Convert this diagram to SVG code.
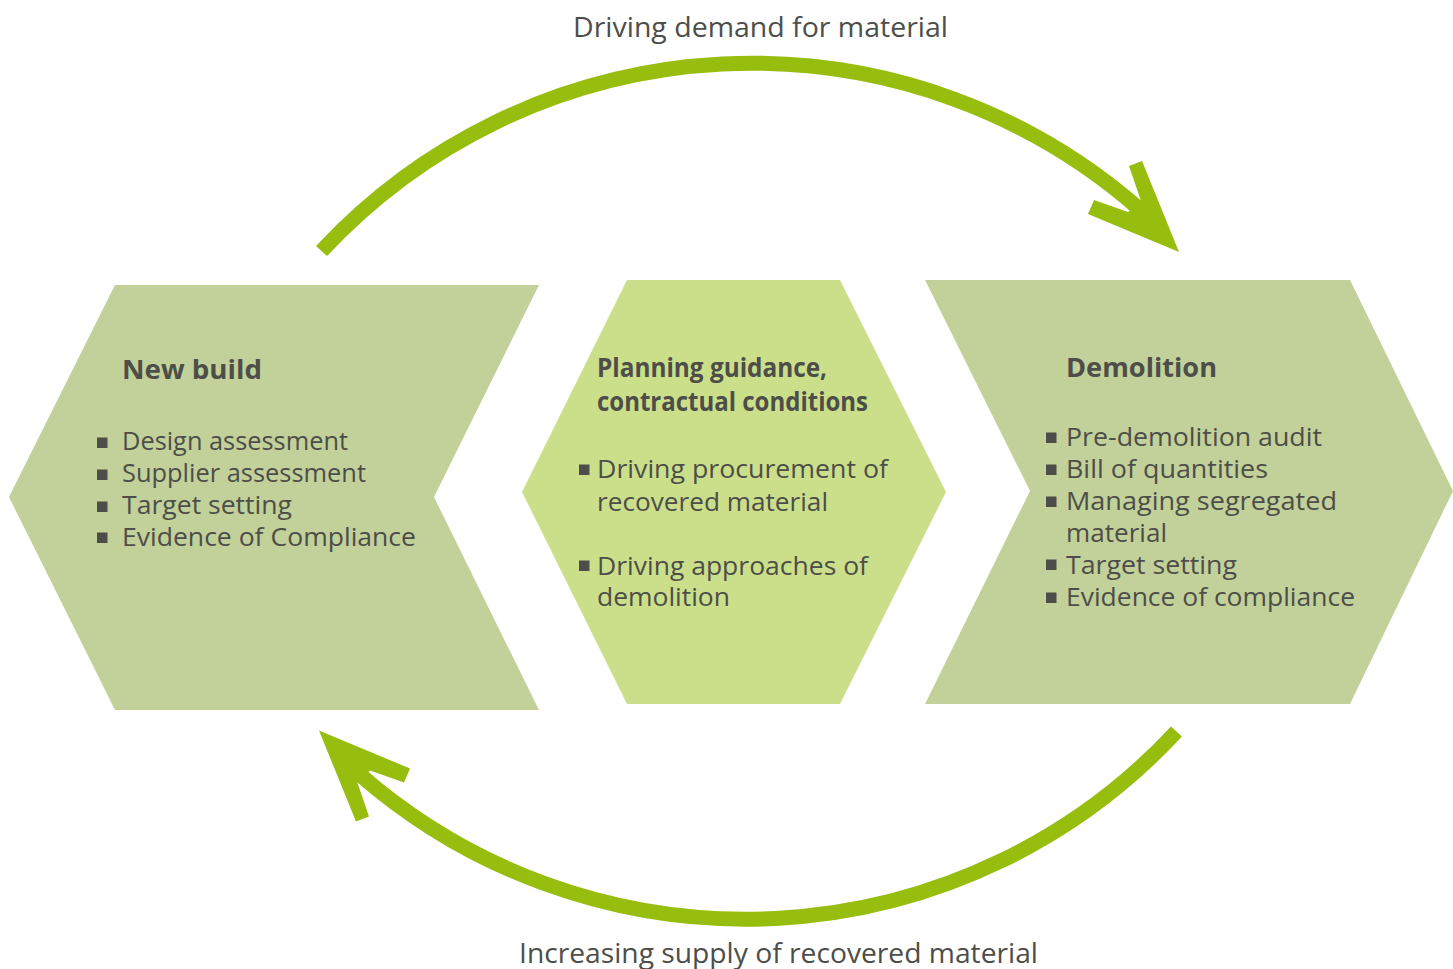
<svg xmlns="http://www.w3.org/2000/svg" width="1453" height="969" viewBox="0 0 1453 969">
  <defs>
    <style>
      .side { fill: #c2d199; }
      .hub { fill: #cbdf8a; }
      .t { font-family: "Open Sans", "Noto Sans", "DejaVu Sans", sans-serif; fill: #4d4e49; }
      .body { font-size: 25.5px; }
      .head { font-size: 27px; font-weight: 700; }
      .lbl { font-size: 27.5px; }
      .dot { fill: #4d4e49; }
      .shaft { fill: none; stroke: #97bd0e; stroke-width: 15; stroke-linecap: butt; }
      .tip { fill: #97bd0e; }
    </style>
    <!-- one curved arrow: arc shaft plus open chevron head -->
    <g id="cycle-arrow">
      <path class="shaft" d="M 321.5 251 A 587.7 587.7 0 0 1 1140 209.5"/>
      <polygon class="tip" points="1179,252 1088,214 1094,200 1128,212 1141,201 1129,166 1142,161"/>
    </g>
  </defs>

  <rect width="1453" height="969" fill="#ffffff"/>

  <!-- connectors -->
  <g id="connectors">
    <use href="#cycle-arrow"/>
    <use href="#cycle-arrow" transform="rotate(180 749 491.25)"/>
  </g>

  <!-- loop labels -->
  <g id="labels">
    <text class="t lbl" x="573" y="37" textLength="375" lengthAdjust="spacingAndGlyphs">Driving demand for material</text>
    <text class="t lbl" x="519" y="963" textLength="519" lengthAdjust="spacingAndGlyphs">Increasing supply of recovered material</text>
  </g>

  <!-- new build -->
  <g id="new-build">
    <polygon class="side" points="115,285 539,285 434,497 539,710 115,710 9,497"/>
    <text class="t head" x="122" y="379" textLength="140" lengthAdjust="spacingAndGlyphs">New build</text>
    <rect class="dot" x="97" y="437.5" width="10.5" height="10.5"/>
    <text class="t body" x="122" y="450" textLength="226" lengthAdjust="spacingAndGlyphs">Design assessment</text>
    <rect class="dot" x="97" y="469.5" width="10.5" height="10.5"/>
    <text class="t body" x="122" y="482" textLength="244" lengthAdjust="spacingAndGlyphs">Supplier assessment</text>
    <rect class="dot" x="97" y="501.5" width="10.5" height="10.5"/>
    <text class="t body" x="122" y="514" textLength="170" lengthAdjust="spacingAndGlyphs">Target setting</text>
    <rect class="dot" x="97" y="532.5" width="10.5" height="10.5"/>
    <text class="t body" x="122" y="546" textLength="294" lengthAdjust="spacingAndGlyphs">Evidence of Compliance</text>
  </g>

  <!-- planning guidance -->
  <g id="planning">
    <polygon class="hub" points="627,280 840,280 946,492 840,704 627,704 522,492"/>
    <text class="t head" x="597" y="377" font-size="26" textLength="230" lengthAdjust="spacingAndGlyphs">Planning guidance,</text>
    <text class="t head" x="597" y="411" font-size="26" textLength="271" lengthAdjust="spacingAndGlyphs">contractual conditions</text>
    <rect class="dot" x="579" y="464.5" width="10.5" height="10.5"/>
    <text class="t body" x="597" y="478" textLength="291" lengthAdjust="spacingAndGlyphs">Driving procurement of</text>
    <text class="t body" x="597" y="511" textLength="231" lengthAdjust="spacingAndGlyphs">recovered material</text>
    <rect class="dot" x="579" y="560.5" width="10.5" height="10.5"/>
    <text class="t body" x="597" y="575" textLength="271" lengthAdjust="spacingAndGlyphs">Driving approaches of</text>
    <text class="t body" x="597" y="606" textLength="133" lengthAdjust="spacingAndGlyphs">demolition</text>
  </g>

  <!-- demolition -->
  <g id="demolition">
    <polygon class="side" points="925,280 1350,280 1453,491 1350,704 925,704 1030,491"/>
    <text class="t head" x="1066" y="377" textLength="151" lengthAdjust="spacingAndGlyphs">Demolition</text>
    <rect class="dot" x="1046" y="432.5" width="10.5" height="10.5"/>
    <text class="t body" x="1066" y="446" textLength="256" lengthAdjust="spacingAndGlyphs">Pre-demolition audit</text>
    <rect class="dot" x="1046" y="464.5" width="10.5" height="10.5"/>
    <text class="t body" x="1066" y="478" textLength="202" lengthAdjust="spacingAndGlyphs">Bill of quantities</text>
    <rect class="dot" x="1046" y="496.5" width="10.5" height="10.5"/>
    <text class="t body" x="1066" y="510" textLength="271" lengthAdjust="spacingAndGlyphs">Managing segregated</text>
    <text class="t body" x="1066" y="542" textLength="101" lengthAdjust="spacingAndGlyphs">material</text>
    <rect class="dot" x="1046" y="559.5" width="10.5" height="10.5"/>
    <text class="t body" x="1066" y="574" textLength="171" lengthAdjust="spacingAndGlyphs">Target setting</text>
    <rect class="dot" x="1046" y="592.5" width="10.5" height="10.5"/>
    <text class="t body" x="1066" y="606" textLength="289" lengthAdjust="spacingAndGlyphs">Evidence of compliance</text>
  </g>
</svg>
